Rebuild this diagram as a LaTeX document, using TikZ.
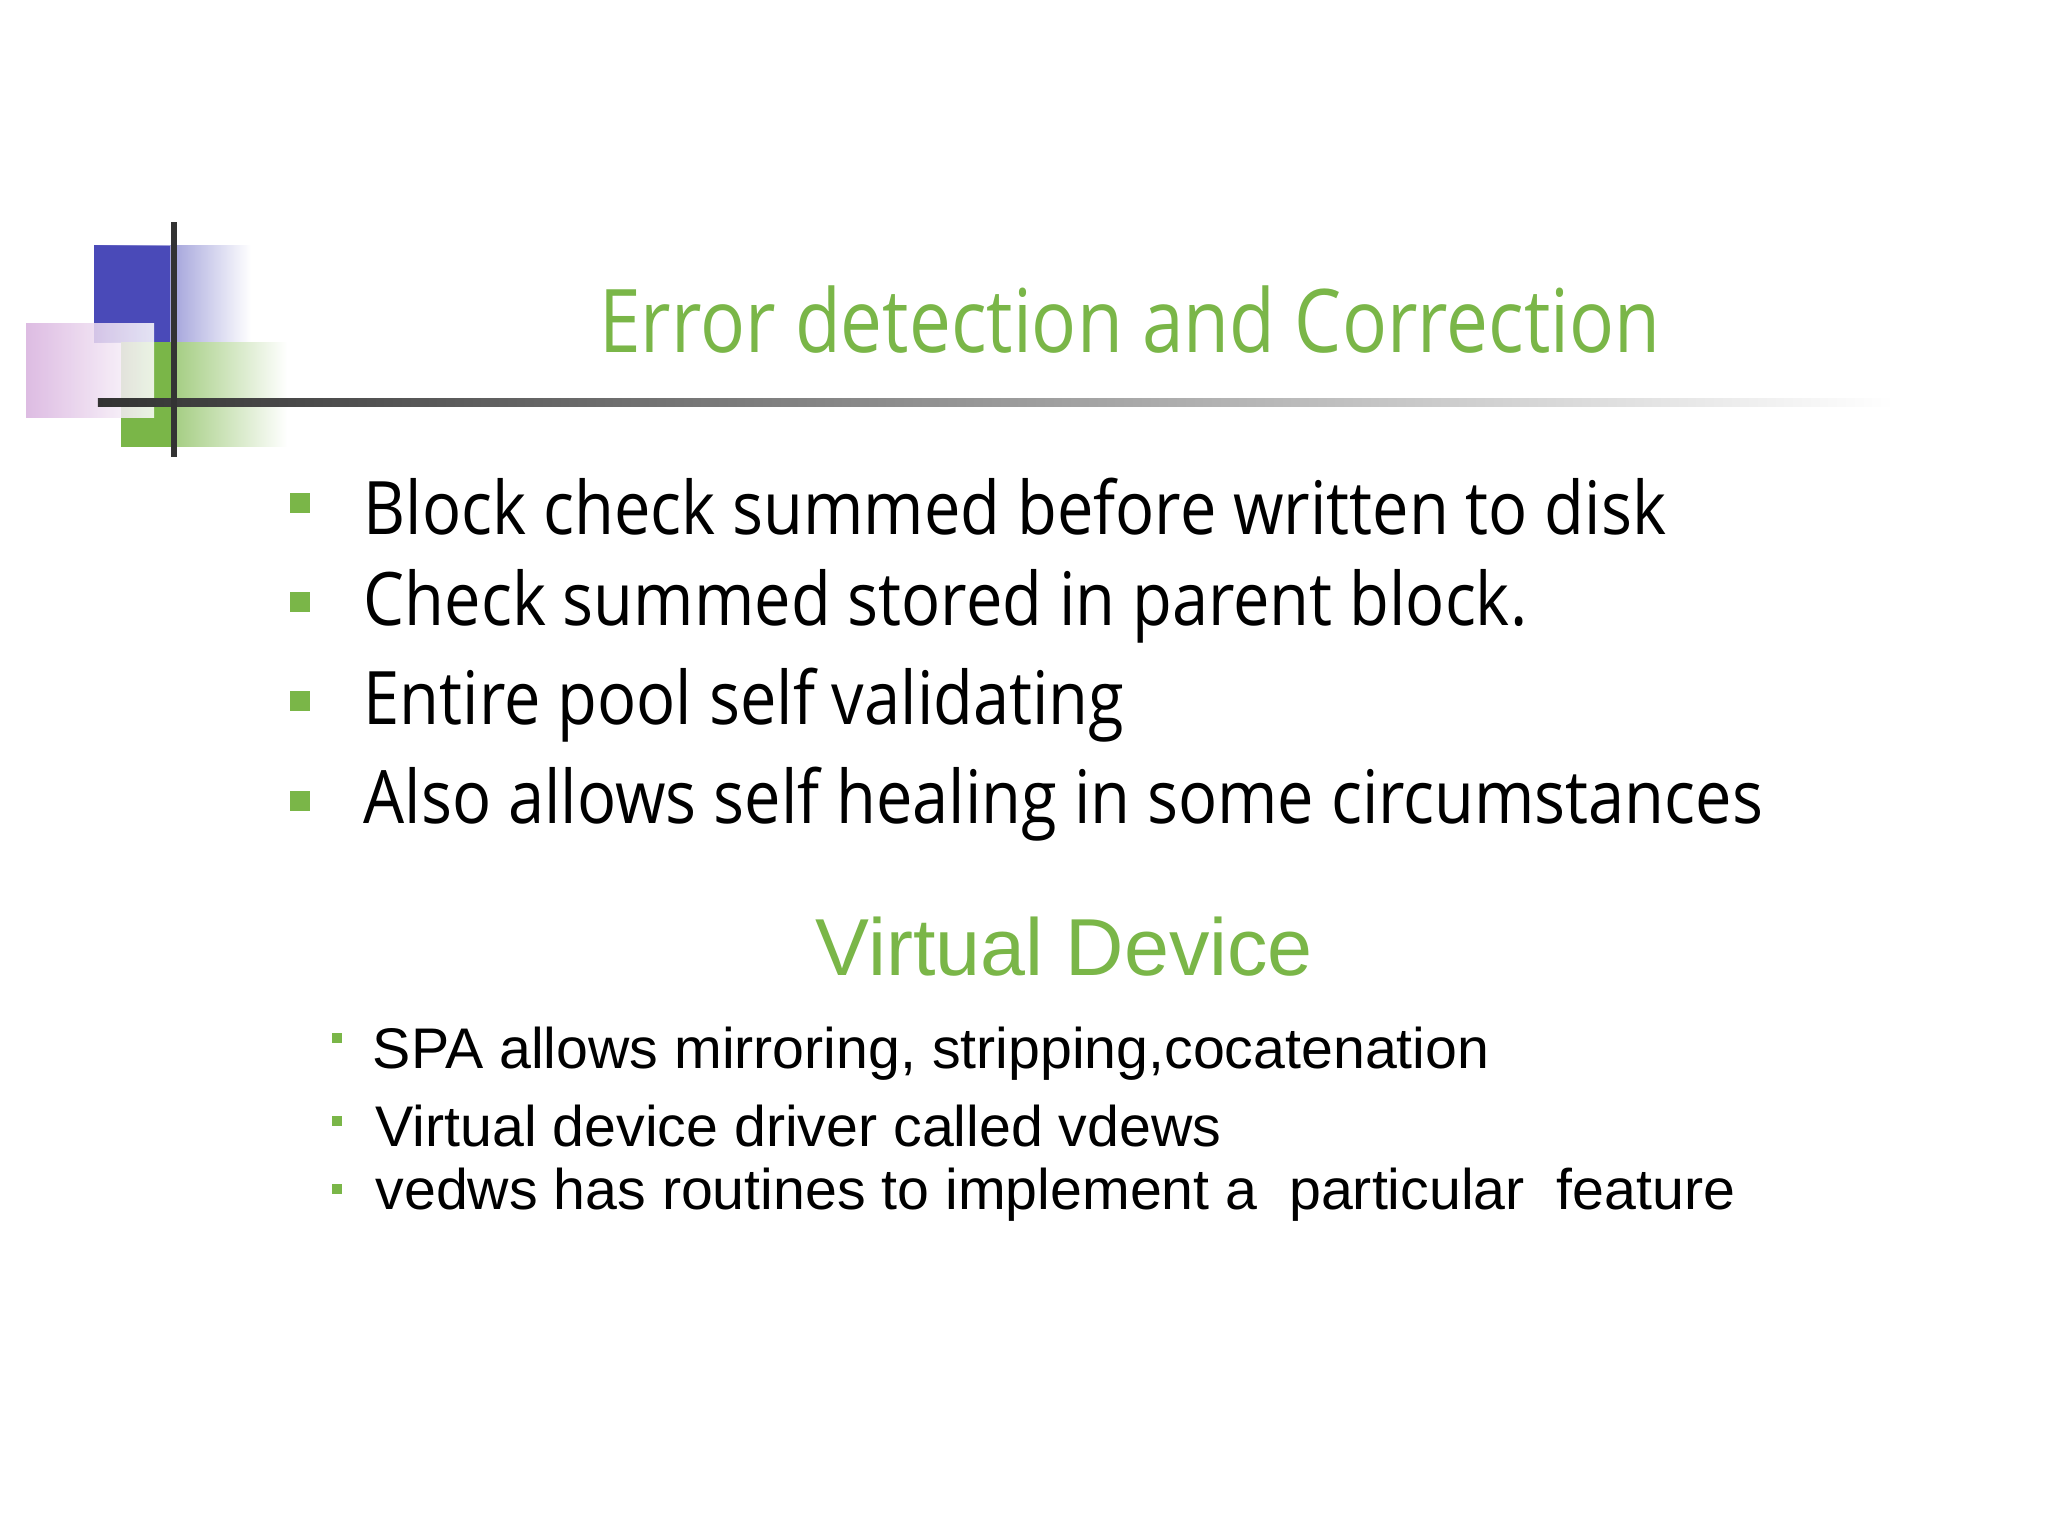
\documentclass[tikz,border=0pt]{standalone}
\usepackage{fontspec}
\setmainfont{Open Sans}
\newfontfamily\titlef[FakeStretch=0.85]{Open Sans}
\newfontfamily\bodyf[FakeStretch=0.88]{Open Sans}
\newfontfamily\arialf{Liberation Sans}
\definecolor{tgreen}{HTML}{7AB648}
\definecolor{lblue}{HTML}{4A4AB8}
\definecolor{lpink}{HTML}{C78FD0}
\tikzset{
 bul/.style={fill=tgreen,minimum size=0.2cm,inner sep=0pt},
 sbul/.style={fill=tgreen,minimum size=0.1cm,inner sep=0pt},
 btext/.style={anchor=west,inner sep=0pt,font=\bodyf\fontsize{21}{24}\selectfont},
 stext/.style={anchor=west,inner sep=0pt,font=\arialf\fontsize{16.3}{18}\selectfont}
}
\begin{document}
\begin{tikzpicture}[x=0.01306cm,y=-0.01306cm]
\useasboundingbox (0,0) rectangle (1568,1176);
\fill[white] (0,0) rectangle (1568,1176);
% logo
\shade[left color=lblue,right color=white] (72,188) rectangle (192,262);
\fill[lblue] (72,188) rectangle (130,262);
\shade[left color=tgreen,right color=white] (93,262) rectangle (220,342);
\fill[tgreen] (93,262) rectangle (135,342);
\shade[left color=lpink!70,right color=white,opacity=0.85] (20,248) rectangle (118,320);
\shade[left color=black!80,right color=white] (75,305) rectangle (1450,311);
\draw[black!80,line width=0.06cm] (133,170) -- (133,350);
% title
\node[font=\titlef\fontsize{25}{28}\selectfont,text=tgreen] (title) at (865,245) {Error detection and Correction};
% bullets
\foreach \y/\t [count=\i] in {388/Block check summed before written to disk,464/Check summed stored in parent block.,540/Entire pool self validating,616/Also allows self healing in some circumstances}{
 \node[bul] (b\i) at (230,\y-3) {};
 \node[btext] (t\i) at (278,\y) {\t};
}
\node[font=\arialf\fontsize{23}{26}\selectfont,text=tgreen] (vd) at (815,725) {Virtual Device};
\node[sbul] (s1) at (258,795) {};
\node[stext] (u1) at (285,807) {SPA allows mirroring, stripping,cocatenation};
\node[sbul] (s2) at (258,858) {};
\node[stext] (u2) at (287,862) {Virtual device driver called vdews};
\node[sbul] (s3) at (258,910) {};
\node[stext] (u3) at (287,915) {vedws has routines to implement a\ \ particular\ \ feature};
\end{tikzpicture}
\end{document}
